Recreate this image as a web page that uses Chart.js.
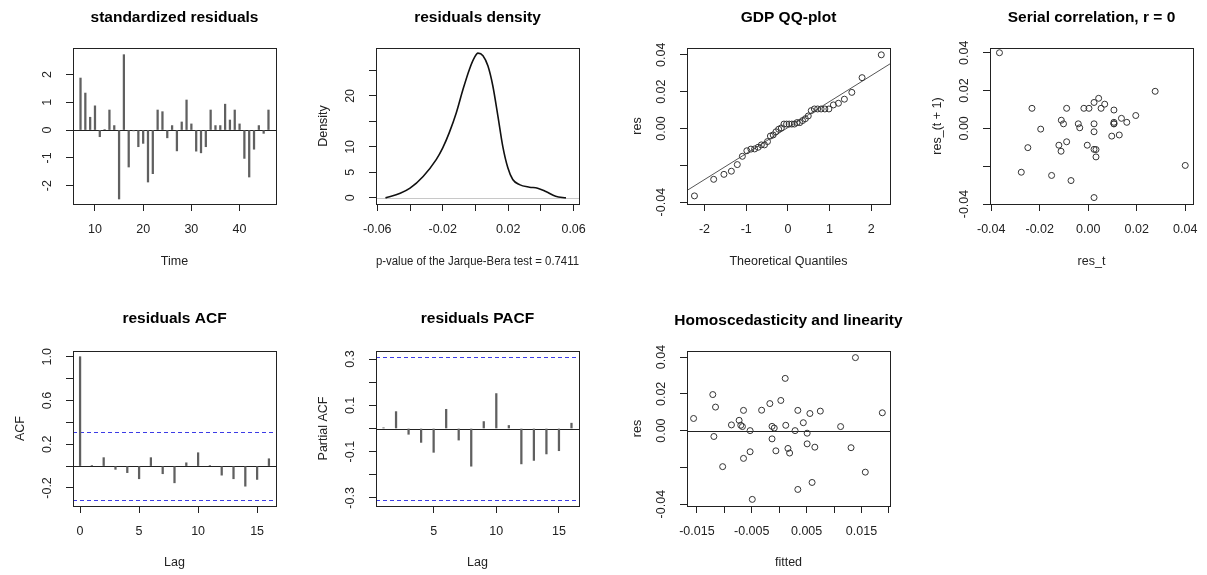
<!DOCTYPE html>
<html lang="en">
<head>
<meta charset="UTF-8">
<title>GDP model residual diagnostics</title>
<script src="https://cdn.jsdelivr.net/npm/chart.js@4"></script>
<style>
  html, body { margin: 0; padding: 0; background: #fff; overflow: hidden; }
  #page { position: relative; width: 1207px; height: 575px; overflow: hidden; }
  canvas { position: absolute; }
</style>
</head>
<body>
<div id="page">
  <canvas id="pStd"></canvas>
  <canvas id="pDens"></canvas>
  <canvas id="pQQ"></canvas>
  <canvas id="pSerial"></canvas>
  <canvas id="pAcf"></canvas>
  <canvas id="pPacf"></canvas>
  <canvas id="pHomo"></canvas>
</div>
<script>
// ---- data ----
const timeIdx = [7, 8, 9, 10, 11, 12, 13, 14, 15, 16, 17, 18, 19, 20, 21, 22, 23, 24, 25, 26,
                 27, 28, 29, 30, 31, 32, 33, 34, 35, 36, 37, 38, 39, 40, 41, 42, 43, 44, 45, 46];
const stdRes = [1.87, 1.33, 0.46, 0.87, -0.24, 0.02, 0.72, 0.16, -2.48, 2.71, -1.33, -0.03, -0.60, -0.48,
                -1.87, -1.57, 0.72, 0.66, -0.28, 0.16, -0.75, 0.29, 1.08, 0.22, -0.76, -0.82, -0.60, 0.72,
                0.16, 0.16, 0.93, 0.36, 0.72, 0.22, -1.02, -1.69, -0.69, 0.16, -0.12, 0.72];
// raw residuals in time order
const res = [0.0276, 0.0196, 0.0068, 0.0128, -0.0035, 0.0003, 0.0106, 0.0024, -0.0366, 0.0400,
             -0.0196, -0.0004, -0.0089, -0.0071, -0.0276, -0.0232, 0.0106, 0.0097, -0.0041, 0.0024,
             -0.0111, 0.0043, 0.0159, 0.0032, -0.0112, -0.0121, -0.0089, 0.0106, 0.0024, 0.0024,
             0.0137, 0.0053, 0.0106, 0.0032, -0.0151, -0.0249, -0.0102, 0.0024, -0.0018, 0.0106];

const densX = [-0.055, -0.046, -0.040, -0.032, -0.024, -0.020, -0.016, -0.0117, -0.0076, -0.0036, -0.0005,
               0.0015, 0.0046, 0.0076, 0.0106, 0.0137, 0.0167, 0.0198, 0.0228, 0.0269, 0.033, 0.038,
               0.043, 0.049, 0.0553];
const densY = [0.0, 0.9, 1.9, 4.2, 7.5, 9.8, 12.8, 16.7, 21.3, 25.3, 27.6,
               28.4, 27.9, 25.9, 22.0, 16.1, 10.1, 5.9, 3.6, 2.6, 2.1, 1.9,
               1.25, 0.3, 0.0];

const qqTheo = [-2.241, -1.780, -1.534, -1.356, -1.213, -1.092, -0.984, -0.887, -0.798, -0.714,
                -0.636, -0.561, -0.489, -0.419, -0.352, -0.286, -0.221, -0.157, -0.094, -0.031,
                0.031, 0.094, 0.157, 0.221, 0.286, 0.352, 0.419, 0.489, 0.561, 0.636,
                0.714, 0.798, 0.887, 0.984, 1.092, 1.213, 1.356, 1.534, 1.780, 2.241];
const qqSample = [-0.0366, -0.0276, -0.0249, -0.0232, -0.0196, -0.0151, -0.0121, -0.0112, -0.0111, -0.0102,
                  -0.0089, -0.0089, -0.0071, -0.0041, -0.0035, -0.0018, -0.0004, 0.0003, 0.0024, 0.0024,
                  0.0024, 0.0024, 0.0024, 0.0032, 0.0032, 0.0043, 0.0053, 0.0068, 0.0097, 0.0106,
                  0.0106, 0.0106, 0.0106, 0.0106, 0.0128, 0.0137, 0.0159, 0.0196, 0.0276, 0.0400];
const qqLineX = [-2.6, 2.6];
const qqLineY = [-0.0362, 0.0372];

const acfLag = [0, 1, 2, 3, 4, 5, 6, 7, 8, 9, 10, 11, 12, 13, 14, 15, 16];
const acfVal = [1.0, 0.003, 0.077, -0.03, -0.06, -0.116, 0.077, -0.07, -0.153, 0.03, 0.122, 0.005,
                -0.083, -0.116, -0.184, -0.122, 0.067];
const pacfLag = [1, 2, 3, 4, 5, 6, 7, 8, 9, 10, 11, 12, 13, 14, 15, 16];
const pacfVal = [0.003, 0.073, -0.025, -0.06, -0.103, 0.083, -0.05, -0.163, 0.03, 0.151, 0.013,
                 -0.153, -0.138, -0.11, -0.096, 0.023];
const confLimit = 0.31;

const fittedVals = [-0.0156, -0.0121, -0.0116, -0.0119, -0.0103, -0.0087, -0.0073, -0.0070, -0.0067, -0.0065,
                    -0.0065, -0.0053, -0.0053, -0.0049, -0.0032, -0.0017, -0.0013, -0.0013, -0.0009, -0.0006,
                    0.0003, 0.0011, 0.0012, 0.0016, 0.0019, 0.0029, 0.0034, 0.0034, 0.0044, 0.0051,
                    0.0051, 0.0056, 0.0060, 0.0065, 0.0075, 0.0112, 0.0131, 0.0139, 0.0157, 0.0188];
const fittedRes = [0.0066, 0.0196, 0.0128, -0.0032, -0.0196, 0.0031, 0.0056, 0.0029, 0.0022, 0.0110,
                   -0.0151, 0.0000, -0.0115, -0.0374, 0.0111, 0.0147, 0.0023, -0.0045, 0.0014, -0.0110,
                   0.0164, 0.0284, 0.0029, -0.0097, -0.0122, 0.0000, 0.0110, -0.0320, 0.0043, -0.0014,
                   -0.0072, 0.0093, -0.0282, -0.0090, 0.0106, 0.0022, -0.0093, 0.0397, -0.0226, 0.0097];

// ---- axis ticks ----
const resTicks = [-0.04, -0.02, 0, 0.02, 0.04];
const resLabels = ['-0.04', '', '0.00', '0.02', '0.04'];

// ---- R-like look ----
const FONT = '"Liberation Sans", Arial, sans-serif';
const INK = '#222';
const AX_W = 70, TOP_H = 48, BOT_H = 70;
Chart.defaults.font.family = FONT;

// frame, reference lines and upright y labels the way base R draws them
const rFrame = {
  id: 'rFrame',
  beforeDatasetsDraw(chart, args, opts) {
    const { ctx, chartArea: a } = chart;
    const y = chart.scales.y;
    ctx.save();
    ctx.beginPath();
    ctx.rect(a.left, a.top, a.width, a.height);
    ctx.clip();
    (opts.hlines || []).forEach(h => {
      const py = Math.round(y.getPixelForValue(h.value)) + 0.5;
      ctx.strokeStyle = h.color;
      ctx.lineWidth = h.width || 1;
      ctx.setLineDash(h.dash || []);
      ctx.beginPath();
      ctx.moveTo(a.left, py);
      ctx.lineTo(a.right, py);
      ctx.stroke();
    });
    ctx.restore();
  },
  afterDraw(chart, args, opts) {
    const { ctx, chartArea: a } = chart;
    const y = chart.scales.y;
    ctx.save();
    ctx.strokeStyle = INK;
    ctx.lineWidth = 1;
    ctx.strokeRect(Math.round(a.left) + 0.5, Math.round(a.top) + 0.5,
                   Math.round(a.width), Math.round(a.height));
    ctx.fillStyle = INK;
    ctx.font = '12.5px ' + FONT;
    ctx.textAlign = 'center';
    ctx.textBaseline = 'middle';
    opts.yTicks.forEach((v, i) => {
      const txt = opts.yLabels[i];
      if (!txt) return;
      ctx.save();
      ctx.translate(y.right - 25, y.getPixelForValue(v));
      ctx.rotate(-Math.PI / 2);
      ctx.fillText(txt, 0, 0);
      ctx.restore();
    });
    ctx.restore();
  }
};

function axisCommon(ticks, labels) {
  return {
    type: 'linear',
    offset: false,
    afterBuildTicks: s => { s.ticks = ticks.map(v => ({ value: v })); },
    grid: { display: true, drawOnChartArea: false, drawTicks: true, tickLength: 7,
            color: INK, lineWidth: 1, offset: false },
    border: { display: false }
  };
}

function panel(id, box, cfg) {
  const cv = document.getElementById(id);
  cv.width = AX_W + box.w + AX_W;
  cv.height = TOP_H + box.h + BOT_H;
  cv.style.left = (box.x - AX_W) + 'px';
  cv.style.top = (box.y - TOP_H) + 'px';

  const x = Object.assign(axisCommon(cfg.xTicks, cfg.xLabels), {
    min: cfg.xRange[0], max: cfg.xRange[1],
    afterFit: s => { s.height = BOT_H; },
    ticks: { autoSkip: false, maxRotation: 0, minRotation: 0, padding: 11, color: INK,
             font: { size: 12.5 }, callback: (v, i) => cfg.xLabels[i] },
    title: { display: true, text: cfg.xTitle, color: INK, font: { size: 12.5 },
             padding: { top: 0, bottom: cfg.xTitlePad || 6 } }
  });
  const y = Object.assign(axisCommon(cfg.yTicks, cfg.yLabels), {
    min: cfg.yRange[0], max: cfg.yRange[1],
    afterFit: s => { s.width = AX_W; },
    ticks: { display: false },
    title: { display: !!cfg.yTitle, text: cfg.yTitle || '', color: INK, font: { size: 12.5 },
             padding: { top: cfg.yTitlePad || 10.5, bottom: 0 } }
  });

  return new Chart(cv, {
    type: cfg.type,
    data: { datasets: cfg.datasets },
    options: {
      responsive: false,
      animation: false,
      devicePixelRatio: 1,
      events: [],
      layout: { padding: 0, autoPadding: false },
      plugins: {
        legend: { display: false },
        tooltip: { enabled: false },
        title: {
          display: true, text: cfg.title, color: '#000',
          font: { size: 15.5, weight: 'bold' },
          padding: { top: cfg.titleTop, bottom: TOP_H - 18.6 - cfg.titleTop }
        },
        rFrame: { hlines: cfg.hlines || [], yTicks: cfg.yTicks, yLabels: cfg.yLabels }
      },
      scales: {
        x: x,
        y: y,
        // empty right-hand axis keeps the title centred over the plot
        yr: { axis: 'y', position: 'right', display: true, grid: { display: false },
              border: { display: false }, ticks: { display: false },
              afterFit: s => { s.width = AX_W; } }
      }
    },
    plugins: [rFrame]
  });
}

const pts = (xs, ys) => xs.map((v, i) => ({ x: v, y: ys[i] }));
const circles = { pointStyle: 'circle', pointRadius: 3, pointBorderWidth: 1,
                  pointBorderColor: '#333', pointBackgroundColor: 'rgba(0,0,0,0)', showLine: false };
const spikes = { backgroundColor: '#606060', barThickness: 1.6, grouped: false };
const zeroLine = { value: 0, color: INK, width: 1 };

// standardized residuals
panel('pStd', { x: 73, y: 48, w: 203, h: 156 }, {
  type: 'bar', title: 'standardized residuals', titleTop: 8.7,
  xRange: [5.44, 47.56], xTicks: [10, 20, 30, 40], xLabels: ['10', '20', '30', '40'], xTitle: 'Time',
  xTitlePad: 5,
  yRange: [-2.66, 2.95], yTicks: [-2, -1, 0, 1, 2], yLabels: ['-2', '-1', '0', '1', '2'],
  hlines: [zeroLine],
  datasets: [Object.assign({ data: pts(timeIdx, stdRes) }, spikes)]
});

// residuals density
panel('pDens', { x: 376, y: 48, w: 203, h: 156 }, {
  type: 'scatter', title: 'residuals density', titleTop: 8.7,
  xRange: [-0.0608, 0.0633], xTicks: [-0.06, -0.04, -0.02, 0, 0.02, 0.04, 0.06],
  xLabels: ['-0.06', '', '-0.02', '', '0.02', '', '0.06'],
  xTitle: 'p-value of the Jarque-Bera test = 0.7411', xTitlePad: 5,
  yRange: [-1.2, 29.4], yTicks: [0, 5, 10, 15, 20, 25], yLabels: ['0', '5', '10', '', '20', ''],
  yTitle: 'Density',
  hlines: [{ value: 0, color: '#c8c8c8', width: 1 }],
  datasets: [{ data: pts(densX, densY), showLine: true, pointRadius: 0, borderColor: '#111',
               borderWidth: 1.6, cubicInterpolationMode: 'monotone' }]
});

// QQ plot
panel('pQQ', { x: 687, y: 48, w: 203, h: 156 }, {
  type: 'scatter', title: 'GDP QQ-plot', titleTop: 8.7,
  xRange: [-2.42, 2.45], xTicks: [-2, -1, 0, 1, 2], xLabels: ['-2', '-1', '0', '1', '2'],
  xTitle: 'Theoretical Quantiles', xTitlePad: 5,
  yRange: [-0.041, 0.0437], yTicks: resTicks, yLabels: resLabels, yTitle: 'res', yTitlePad: 13.5,
  datasets: [
    Object.assign({ data: pts(qqTheo, qqSample) }, circles),
    { data: pts(qqLineX, qqLineY), showLine: true, pointRadius: 0, borderColor: '#555', borderWidth: 1 }
  ]
});

// lag-1 scatter
panel('pSerial', { x: 990, y: 48, w: 203, h: 156 }, {
  type: 'scatter', title: 'Serial correlation, r = 0', titleTop: 8.7,
  xRange: [-0.0405, 0.0432], xTicks: resTicks, xLabels: ['-0.04', '-0.02', '0.00', '0.02', '0.04'],
  xTitle: 'res_t', xTitlePad: 5,
  yRange: [-0.0400, 0.0425], yTicks: resTicks, yLabels: resLabels, yTitle: 'res_(t + 1)',
  datasets: [Object.assign({ data: res.slice(0, -1).map((v, i) => ({ x: v, y: res[i + 1] })) }, circles)]
});

const band = { color: '#3c3ce6', width: 1, dash: [4, 3] };

// ACF
panel('pAcf', { x: 73, y: 351, w: 203, h: 155 }, {
  type: 'bar', title: 'residuals ACF', titleTop: 6,
  xRange: [-0.6, 16.6], xTicks: [0, 5, 10, 15], xLabels: ['0', '5', '10', '15'], xTitle: 'Lag',
  yRange: [-0.365, 1.052], yTicks: [-0.2, 0, 0.2, 0.4, 0.6, 0.8, 1.0],
  yLabels: ['-0.2', '', '0.2', '', '0.6', '', '1.0'], yTitle: 'ACF',
  hlines: [zeroLine, Object.assign({ value: confLimit }, band), Object.assign({ value: -confLimit }, band)],
  datasets: [Object.assign({ data: pts(acfLag, acfVal) }, spikes)]
});

// PACF
panel('pPacf', { x: 376, y: 351, w: 203, h: 155 }, {
  type: 'bar', title: 'residuals PACF', titleTop: 6,
  xRange: [0.4, 16.6], xTicks: [5, 10, 15], xLabels: ['5', '10', '15'], xTitle: 'Lag',
  yRange: [-0.335, 0.335], yTicks: [-0.3, -0.2, -0.1, 0, 0.1, 0.2, 0.3],
  yLabels: ['-0.3', '', '-0.1', '', '0.1', '', '0.3'], yTitle: 'Partial ACF',
  hlines: [zeroLine, Object.assign({ value: confLimit }, band), Object.assign({ value: -confLimit }, band)],
  datasets: [Object.assign({ data: pts(pacfLag, pacfVal) }, spikes)]
});

// residuals against fitted values
panel('pHomo', { x: 687, y: 351, w: 203, h: 155 }, {
  type: 'scatter', title: 'Homoscedasticity and linearity', titleTop: 8.5,
  xRange: [-0.0168, 0.0202], xTicks: [-0.015, -0.01, -0.005, 0, 0.005, 0.01, 0.015, 0.02],
  xLabels: ['-0.015', '', '-0.005', '', '0.005', '', '0.015', ''], xTitle: 'fitted',
  yRange: [-0.041, 0.0433], yTicks: resTicks, yLabels: resLabels, yTitle: 'res', yTitlePad: 13.5,
  hlines: [zeroLine],
  datasets: [Object.assign({ data: pts(fittedVals, fittedRes) }, circles)]
});
</script>
</body>
</html>
